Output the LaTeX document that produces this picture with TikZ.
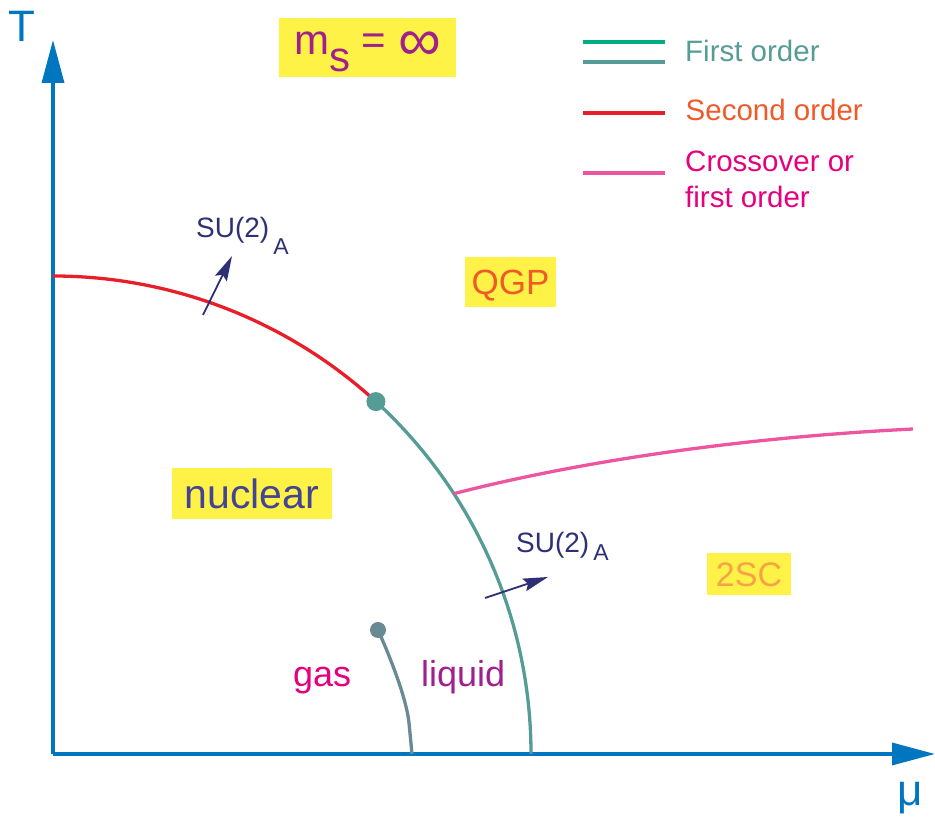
\documentclass[tikz,border=0pt]{standalone}
\usepackage{fontspec}
\setmainfont{Liberation Sans}
\usetikzlibrary{arrows.meta, positioning, calc}

\definecolor{axisblue}{RGB}{0,118,192}
\definecolor{hlyellow}{RGB}{255,242,70}
\definecolor{msviolet}{RGB}{160,32,140}
\definecolor{firstgreen}{RGB}{0,172,130}
\definecolor{firstteal}{RGB}{86,156,150}
\definecolor{secondred}{RGB}{232,30,40}
\definecolor{qgporange}{RGB}{240,90,40}
\definecolor{crosspink}{RGB}{238,85,160}
\definecolor{crossmag}{RGB}{230,0,126}
\definecolor{symnavy}{RGB}{46,48,118}
\definecolor{nuclnavy}{RGB}{68,68,150}
\definecolor{csclight}{RGB}{247,162,72}
\definecolor{glslate}{RGB}{104,138,148}

\newcommand{\pxfont}[1]{\fontsize{#1}{#1}\selectfont}
\newcommand{\symlab}[1]{SU(2)\hspace{4pt}\raisebox{#1}{\pxfont{23}A}}

\tikzset{
  axis/.style       = {line width=3.5pt, axisblue, -{Triangle[length=43pt, width=22pt]}},
  axislabel/.style  = {text=axisblue, font=\pxfont{44}, inner sep=0pt},
  region/.style     = {fill=hlyellow, inner sep=0pt, text depth=0pt, align=center},
  legline/.style    = {line width=3.2pt},
  legtext/.style    = {anchor=base west, inner sep=0pt, font=\fontsize{29.5}{36}\selectfont, align=left},
  phaseline/.style  = {line width=3.3pt},
  crit/.style       = {circle, inner sep=0pt, minimum size=19pt},
  symarrow/.style   = {-{Stealth[length=25pt, width=13pt, inset=4pt]}, line width=1.8pt, symnavy},
  symlabel/.style   = {anchor=base west, inner sep=0pt, text=symnavy, font=\pxfont{28}},
  phaselabel/.style = {anchor=base west, inner sep=0pt, font=\pxfont{36}},
}

\begin{document}
\begin{tikzpicture}[x=1pt, y=1pt]
  \useasboundingbox (-53,-64) rectangle (882,754);

  % Axes
  \coordinate (O) at (0,0);
  \coordinate (Ttip) at (0,714);
  \coordinate (mutip) at (882,0);
  \draw[axis] (O) -- (Ttip);
  \draw[axis] (O) -- (mutip);
  \node[axislabel] (T) at (-31,728) {T};
  \node[axislabel] (mu) at (857,-44) {μ};

  % Strange quark mass
  \node[region, minimum width=177pt, minimum height=59pt, text height=30pt, text depth=15pt,
        text=msviolet, font=\pxfont{42}] (ms) at (314.5,706.5)
        {m\raisebox{-17pt}{s} = \raisebox{-6pt}{\pxfont{60}∞}};

  % Legend
  \node[legtext, text=firstteal] (lfirst) at (632,692) {First order};
  \node[legtext, text=qgporange] (lsecond) at (632.5,633) {Second order};
  \node[legtext, text=crossmag] (lcross) at (632,546) {Crossover or\\first order};
  \draw[legline, firstgreen] (530,712) -- (612,712);
  \draw[legline, firstteal] (530,692) -- (612,692);
  \draw[legline, secondred] (530,641) -- (612,641);
  \draw[legline, crosspink] (530,581) -- (612,581);

  % Phase boundaries
  \coordinate (Ttop) at (0,478);
  \coordinate (cepc) at (47.5:478);
  \coordinate (junc) at (33:478);
  \coordinate (crossend) at (860,325);
  \draw[phaseline, secondred] (Ttop) arc[start angle=90, end angle=47.5, radius=478];
  \draw[phaseline, firstteal] (cepc) arc[start angle=47.5, end angle=0, radius=478];
  \draw[phaseline, crosspink] (junc) .. controls (520,291) and (680,316) .. (crossend);
  \node[crit, fill=firstteal] (cep) at (cepc) {};

  % Gas-liquid line
  \coordinate (glc) at (325,124);
  \coordinate (glfoot) at (359,0);
  \draw[phaseline, glslate] (glc) .. controls (342,86) and (354,51) .. (356,31) -- (glfoot);
  \node[crit, minimum size=16pt, fill=glslate] (glend) at (glc) {};

  % Symmetry arrows
  \coordinate (su1tail) at (150,439);
  \coordinate (su1tip) at (179,498);
  \coordinate (su2tail) at (432,156);
  \coordinate (su2tip) at (495,177);
  \draw[symarrow] (su1tail) -- (su1tip);
  \draw[symarrow] (su2tail) -- (su2tip);
  \node[symlabel] (su1) at (143,516) {\symlab{-17pt}};
  \node[symlabel] (su2) at (463,201) {\symlab{-8pt}};

  % Phase labels
  \node[region, minimum width=91pt, minimum height=50pt, text height=25pt,
        text=qgporange, font=\pxfont{35}] (qgp) at (457.5,472) {QGP};
  \node[region, minimum width=160pt, minimum height=51pt, text height=29.5pt,
        text=nuclnavy, font=\pxfont{41}] (nuclear) at (199,260.5) {nuclear};
  \node[region, minimum width=84pt, minimum height=42pt, text height=24.5pt,
        text=csclight, font=\pxfont{34}] (csc) at (696,180) {2SC};
  \node[phaselabel, text=crossmag] (gas) at (240,67) {gas};
  \node[phaselabel, text=msviolet] (liquid) at (368,67) {liquid};

\end{tikzpicture}
\end{document}
